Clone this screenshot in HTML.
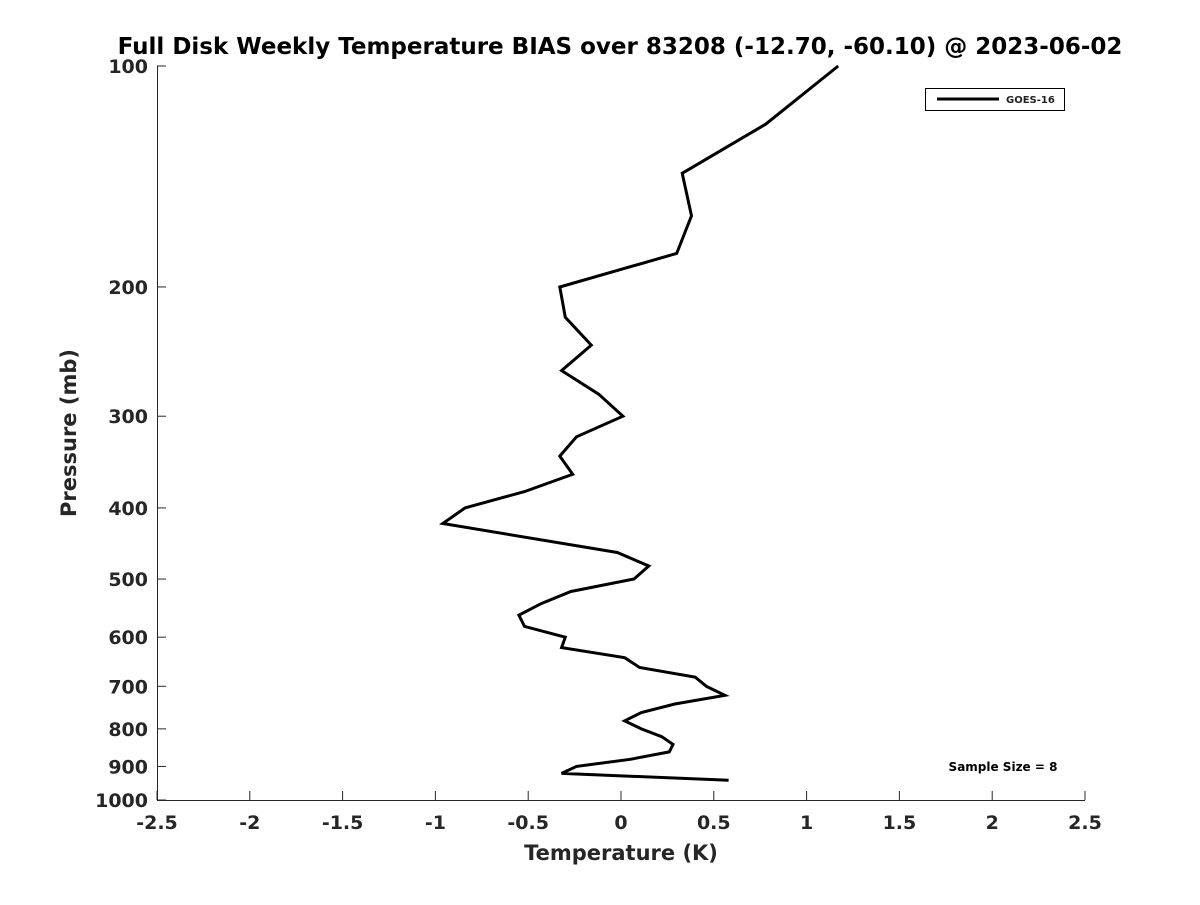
<!DOCTYPE html>
<html><head><meta charset="utf-8"><style>
body{margin:0;background:#fff;font-family:"Liberation Sans","DejaVu Sans",sans-serif}
</style></head><body>
<svg width="1200" height="900" xmlns="http://www.w3.org/2000/svg">
<rect width="1200" height="900" fill="#fff"/>
<text x="620" y="54" text-anchor="middle" font-size="23" font-weight="bold" font-family="DejaVu Sans,sans-serif" fill="#000">Full Disk Weekly Temperature BIAS over 83208 (-12.70, -60.10) @ 2023-06-02</text>
<g id="axes"></g>
<path id="line" fill="none" stroke="#000" stroke-width="3" stroke-linejoin="miter"/>
<g>
<rect x="925.5" y="88.5" width="139" height="22" fill="#fff" stroke="#000" stroke-width="1"/>
<line x1="937" y1="99" x2="999" y2="99" stroke="#000" stroke-width="3"/>
<text x="1006" y="103" font-size="10" font-weight="bold" font-family="DejaVu Sans,sans-serif" fill="#222">GOES-16</text>
</g>
<text x="1003" y="771" text-anchor="middle" font-size="12" font-weight="bold" font-family="DejaVu Sans,sans-serif" fill="#000">Sample Size = 8</text>
<text x="621" y="860" text-anchor="middle" font-size="21" font-weight="bold" font-family="DejaVu Sans,sans-serif" fill="#262626">Temperature (K)</text>
<text transform="translate(76,433) rotate(-90)" text-anchor="middle" font-size="21" font-weight="bold" font-family="DejaVu Sans,sans-serif" fill="#262626">Pressure (mb)</text>
</svg>
<script>
const temps=[1.17,0.78,0.33,0.38,0.30,-0.33,-0.30,-0.16,-0.32,-0.12,0.01,-0.24,-0.33,-0.26,-0.52,-0.84,-0.96,-0.02,0.15,0.07,-0.27,-0.43,-0.55,-0.52,-0.30,-0.32,0.02,0.10,0.40,0.46,0.56,0.29,0.11,0.02,0.11,0.22,0.28,0.26,0.05,-0.24,-0.32,0.58];
const pressures=[100,120,140,160,180,200,220,240,260,280,300,320,340,360,380,400,420,460,480,500,520,540,560,580,600,620,640,660,680,700,720,740,760,780,800,820,840,860,880,900,920,940];
const xTicks=[-2.5,-2,-1.5,-1,-0.5,0,0.5,1,1.5,2,2.5];
const yTicks=[100,200,300,400,500,600,700,800,900,1000];
const X0=157,X1=1085,Y0=66,Y1=800;
const xs=v=>X0+(v+2.5)/5*(X1-X0);
const ys=p=>Y0+(Math.log10(p)-2)*(Y1-Y0);
const NS="http://www.w3.org/2000/svg";
const ax=document.getElementById('axes');
function mk(t,a){const e=document.createElementNS(NS,t);for(const k in a)e.setAttribute(k,a[k]);ax.appendChild(e);return e;}
let e=mk('line',{x1:X0,y1:Y1+.5,x2:X1,y2:Y1+.5,stroke:'#262626','stroke-width':1});


e=mk('line',{x1:X0+.5,y1:Y0,x2:X0+.5,y2:Y1,stroke:'#262626','stroke-width':1});


xTicks.forEach(v=>{const x=xs(v);
mk('line',{x1:x,y1:Y1,x2:x,y2:Y1-9,stroke:'#262626'});
const t=mk('text',{x:x,y:Y1+29,'text-anchor':'middle','font-size':19,'font-weight':'bold','font-family':'DejaVu Sans,sans-serif',fill:'#262626'});
t.textContent=String(v);

});
yTicks.forEach(p=>{const y=ys(p);
mk('line',{x1:X0,y1:y,x2:X0+9,y2:y,stroke:'#262626'});
const t=mk('text',{x:X0-9,y:y+7,'text-anchor':'end','font-size':19,'font-weight':'bold','font-family':'DejaVu Sans,sans-serif',fill:'#262626'});
t.textContent=String(p);

});
document.getElementById('line').setAttribute('d',temps.map((v,i)=>(i?'L':'M')+xs(v).toFixed(1)+','+ys(pressures[i]).toFixed(1)).join(''));
</script>
</body></html>
